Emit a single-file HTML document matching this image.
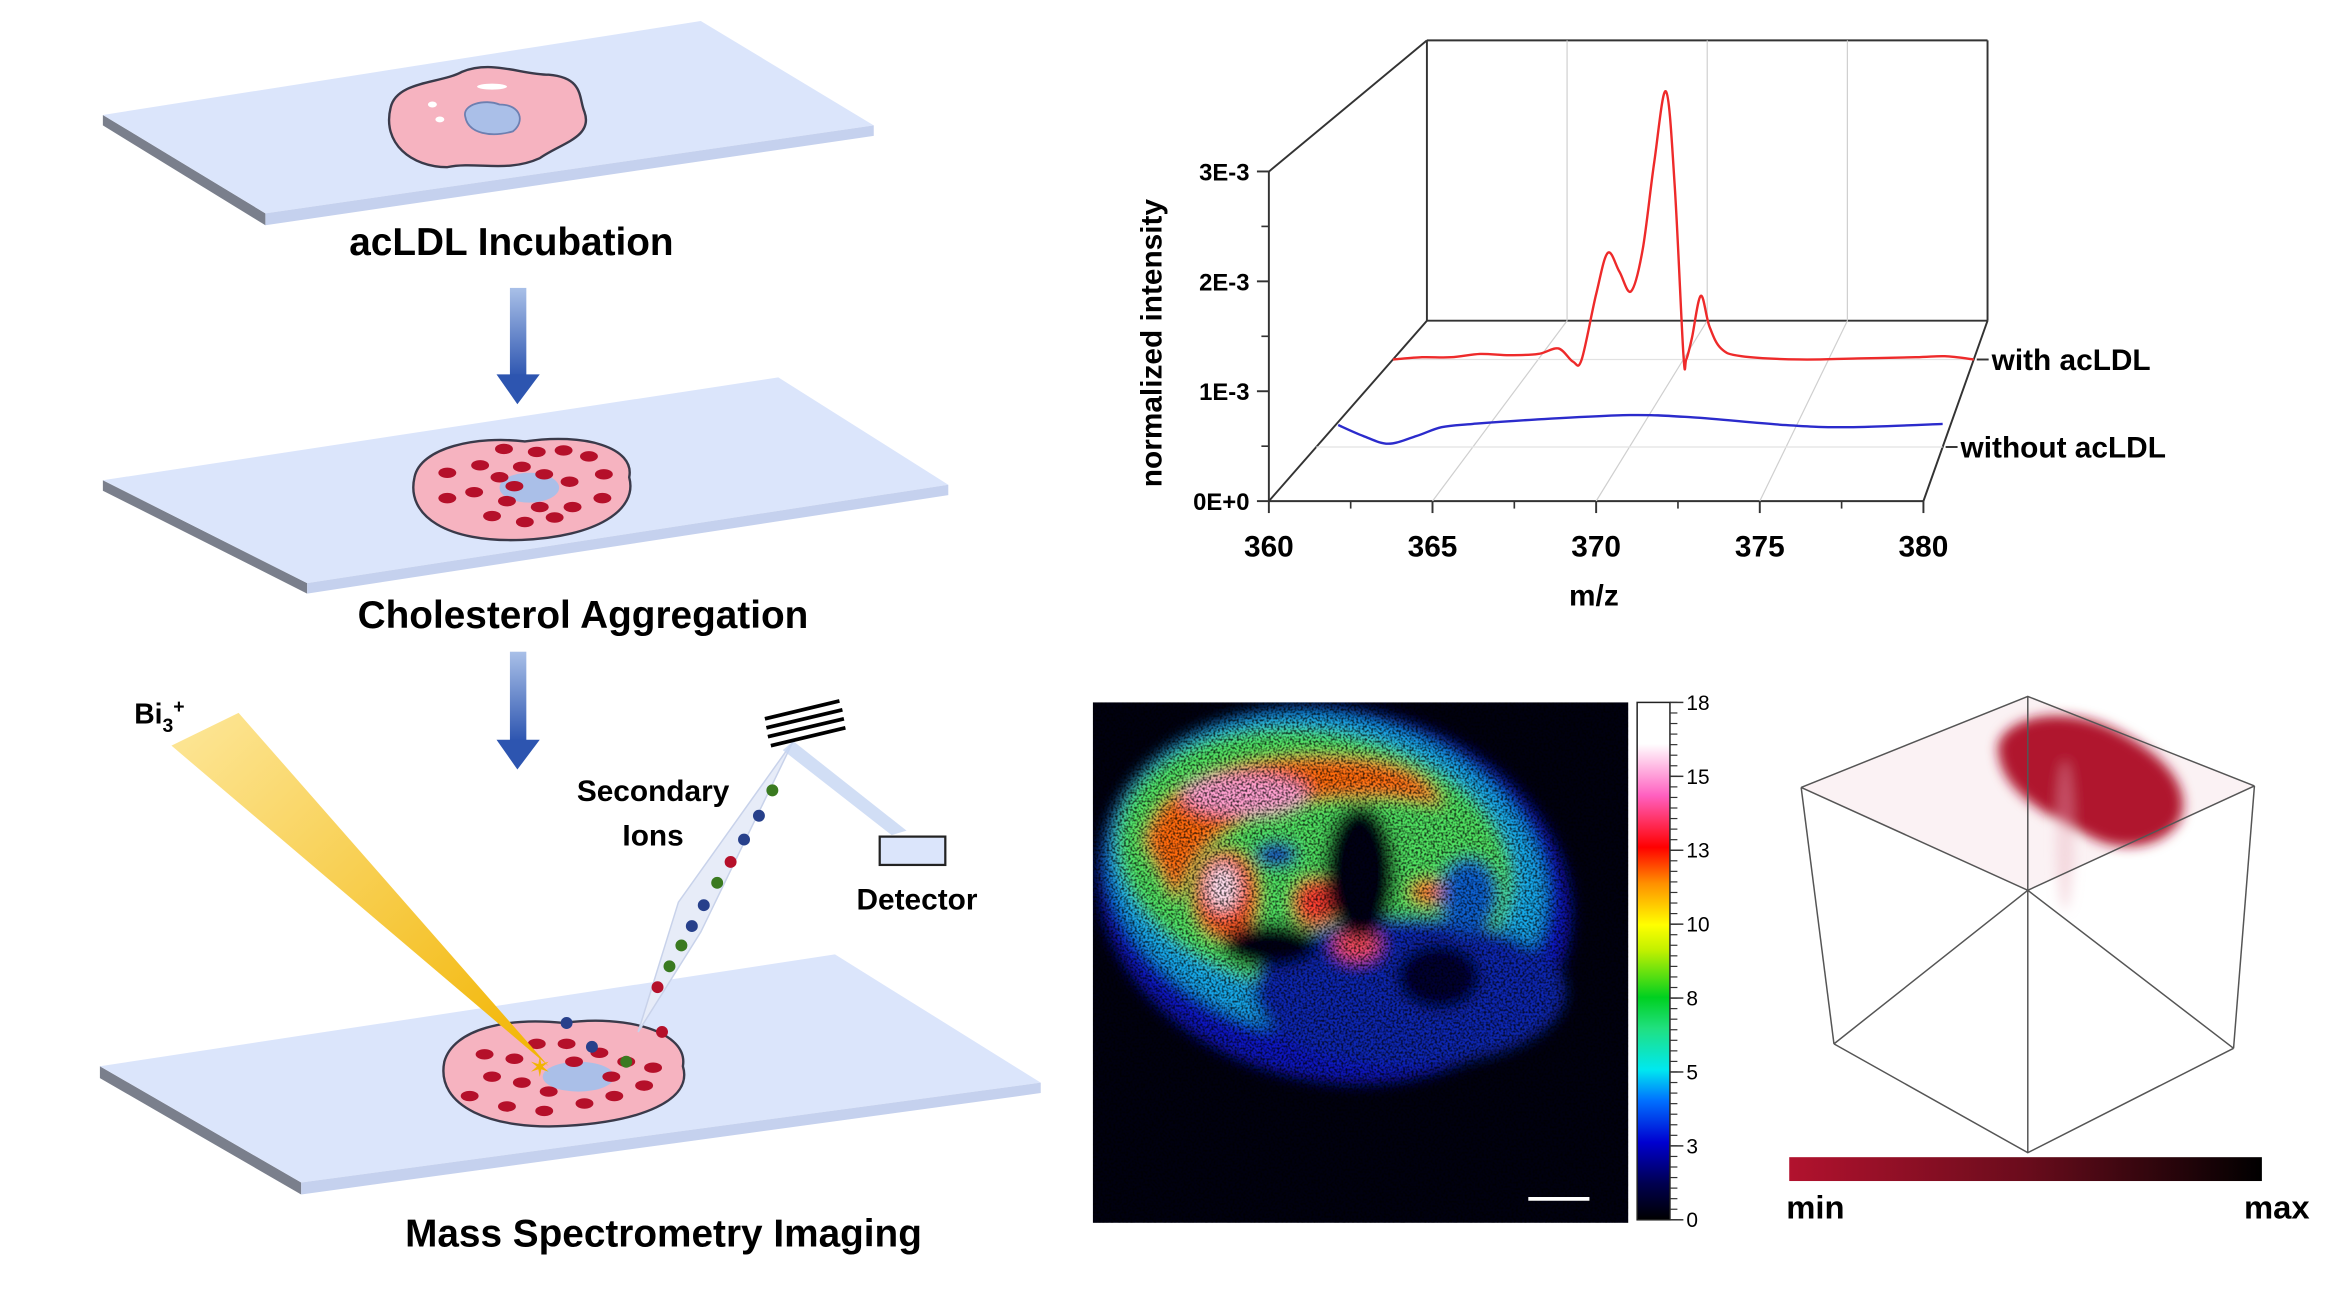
<!DOCTYPE html>
<html><head><meta charset="utf-8">
<style>
html,body{margin:0;padding:0;background:#fff;}
svg{display:block;}
text{font-family:"Liberation Sans",sans-serif;}
</style></head>
<body>
<svg id="fig" width="2326" height="1293" viewBox="0 0 1560 867" xmlns="http://www.w3.org/2000/svg">
<defs>
  <linearGradient id="arrowGrad" x1="0" y1="0" x2="0" y2="1">
    <stop offset="0" stop-color="#a9c0e8"/><stop offset="1" stop-color="#2d55b0"/>
  </linearGradient>
  <linearGradient id="beamGrad" x1="0" y1="0" x2="1" y2="1">
    <stop offset="0" stop-color="#fde79a"/><stop offset="1" stop-color="#f2b400"/>
  </linearGradient>
  <linearGradient id="jet" x1="0" y1="1" x2="0" y2="0">
    <stop offset="0" stop-color="#000000"/>
    <stop offset="0.07" stop-color="#000050"/>
    <stop offset="0.15" stop-color="#0000d0"/>
    <stop offset="0.23" stop-color="#0070ff"/>
    <stop offset="0.29" stop-color="#00e8f0"/>
    <stop offset="0.37" stop-color="#20e080"/>
    <stop offset="0.43" stop-color="#00d020"/>
    <stop offset="0.52" stop-color="#c0f000"/>
    <stop offset="0.57" stop-color="#ffff00"/>
    <stop offset="0.65" stop-color="#ff9000"/>
    <stop offset="0.72" stop-color="#ff0000"/>
    <stop offset="0.82" stop-color="#ff60c0"/>
    <stop offset="0.92" stop-color="#ffffff"/>
    <stop offset="1" stop-color="#ffffff"/>
  </linearGradient>
  <linearGradient id="cubeBar" x1="0" y1="0" x2="1" y2="0">
    <stop offset="0" stop-color="#b2122e"/><stop offset="0.5" stop-color="#6a0c1c"/><stop offset="1" stop-color="#000"/>
  </linearGradient>
  <filter id="blur4"><feGaussianBlur stdDeviation="4"/></filter>
  <filter id="blur8"><feGaussianBlur stdDeviation="5"/></filter>
  <filter id="speckle" x="0" y="0" width="100%" height="100%">
    <feTurbulence type="fractalNoise" baseFrequency="0.7" numOctaves="1" seed="3" result="n"/>
    <feColorMatrix in="n" type="matrix" values="0 0 0 0 0  0 0 0 0 0  0 0 0 0 0  0 0 0 3.2 -1.3" result="a"/>
    <feComposite in="a" in2="SourceGraphic" operator="in"/>
  </filter>
  <clipPath id="heatClip"><rect x="733" y="471" width="359" height="349"/></clipPath>
</defs>

<!-- ================= LEFT ILLUSTRATION ================= -->
<g>
  <g>
    <polygon points="69,77 178,143 178,151 69,84" fill="#7a7f8c"/>
    <polygon points="69,77 470,14 586,84 178,143" fill="#dbe5fb"/>
    <polygon points="178,143 586,84 586,91 178,151" fill="#c5d1ee"/>
    <path d="M262,72 C266,54 296,56 310,48 C330,40 350,50 368,50 C392,52 388,66 392,75 C398,92 376,96 362,106 C340,116 320,108 300,112 C276,112 256,96 262,72Z" fill="#f6b3c0" stroke="#3a3a4a" stroke-width="1.6"/>
    <path d="M312,78 C310,70 325,66 335,70 C350,70 352,82 344,88 C330,92 314,90 312,78Z" fill="#aabfe8" stroke="#6d7fb0" stroke-width="1.2"/>
    <ellipse cx="290" cy="70" rx="3" ry="2" fill="#fff"/><ellipse cx="295" cy="80" rx="3" ry="2" fill="#fff"/><ellipse cx="330" cy="58" rx="10" ry="2" fill="#fff"/>
  </g>
  <text x="343" y="171" text-anchor="middle" font-size="26" font-weight="bold">acLDL Incubation</text>
  <g>
    <rect x="342" y="193" width="11" height="60" fill="url(#arrowGrad)"/>
    <polygon points="333,251 362,251 347,271" fill="#2d55b0"/>
  </g>
  <g>
    <polygon points="69,322 206,391 206,398 69,329" fill="#7a7f8c"/>
    <polygon points="69,322 522,253 636,325 206,391" fill="#dbe5fb"/>
    <polygon points="206,391 636,325 636,332 206,398" fill="#c5d1ee"/>
    <path d="M278,320 C282,300 320,292 352,296 C392,290 426,300 422,320 C428,342 400,360 350,362 C300,364 272,346 278,320Z" fill="#f6b3c0" stroke="#3a3a4a" stroke-width="1.6"/>
    <ellipse cx="355" cy="327" rx="20" ry="10" fill="#aabfe8"/>
    <g fill="#b5102a">
      <ellipse cx="300" cy="317" rx="6" ry="3.5"/><ellipse cx="322" cy="312" rx="6" ry="3.5"/><ellipse cx="338" cy="301" rx="6" ry="3.5"/>
      <ellipse cx="360" cy="303" rx="6" ry="3.5"/><ellipse cx="378" cy="302" rx="6" ry="3.5"/><ellipse cx="395" cy="306" rx="6" ry="3.5"/>
      <ellipse cx="405" cy="318" rx="6" ry="3.5"/><ellipse cx="300" cy="334" rx="6" ry="3.5"/><ellipse cx="318" cy="330" rx="6" ry="3.5"/>
      <ellipse cx="335" cy="320" rx="6" ry="3.5"/><ellipse cx="350" cy="313" rx="6" ry="3.5"/><ellipse cx="365" cy="318" rx="6" ry="3.5"/>
      <ellipse cx="382" cy="323" rx="6" ry="3.5"/><ellipse cx="340" cy="336" rx="6" ry="3.5"/><ellipse cx="362" cy="340" rx="6" ry="3.5"/>
      <ellipse cx="384" cy="340" rx="6" ry="3.5"/><ellipse cx="404" cy="334" rx="6" ry="3.5"/><ellipse cx="330" cy="346" rx="6" ry="3.5"/>
      <ellipse cx="352" cy="350" rx="6" ry="3.5"/><ellipse cx="372" cy="347" rx="6" ry="3.5"/><ellipse cx="345" cy="326" rx="6" ry="3.5"/>
    </g>
  </g>
  <text x="391" y="421" text-anchor="middle" font-size="26" font-weight="bold">Cholesterol Aggregation</text>
  <g>
    <rect x="342" y="437" width="11" height="60" fill="url(#arrowGrad)"/>
    <polygon points="333,496 362,496 347,516" fill="#2d55b0"/>
  </g>
  <g>
    <polygon points="67,715 202,793 202,801 67,723" fill="#7a7f8c"/>
    <polygon points="67,715 560,640 698,726 202,793" fill="#dbe5fb"/>
    <polygon points="202,793 698,726 698,733 202,801" fill="#c5d1ee"/>
    <path d="M298,712 C304,690 340,682 378,686 C420,680 462,692 458,715 C465,738 430,752 380,755 C330,758 292,742 298,712Z" fill="#f6b3c0" stroke="#3a3a4a" stroke-width="1.6"/>
    <ellipse cx="388" cy="722" rx="24" ry="10" fill="#aabfe8"/>
    <g fill="#b5102a">
      <ellipse cx="315" cy="735" rx="6" ry="3.5"/><ellipse cx="330" cy="722" rx="6" ry="3.5"/><ellipse cx="345" cy="710" rx="6" ry="3.5"/>
      <ellipse cx="360" cy="700" rx="6" ry="3.5"/><ellipse cx="380" cy="700" rx="6" ry="3.5"/><ellipse cx="402" cy="706" rx="6" ry="3.5"/>
      <ellipse cx="420" cy="712" rx="6" ry="3.5"/><ellipse cx="438" cy="716" rx="6" ry="3.5"/><ellipse cx="350" cy="726" rx="6" ry="3.5"/>
      <ellipse cx="368" cy="732" rx="6" ry="3.5"/><ellipse cx="392" cy="740" rx="6" ry="3.5"/><ellipse cx="412" cy="735" rx="6" ry="3.5"/>
      <ellipse cx="432" cy="728" rx="6" ry="3.5"/><ellipse cx="340" cy="742" rx="6" ry="3.5"/><ellipse cx="365" cy="745" rx="6" ry="3.5"/>
      <ellipse cx="385" cy="712" rx="6" ry="3.5"/><ellipse cx="410" cy="722" rx="6" ry="3.5"/><ellipse cx="325" cy="707" rx="6" ry="3.5"/>
    </g>
    <circle cx="380" cy="686" r="4" fill="#27408b"/><circle cx="397" cy="702" r="4" fill="#27408b"/>
    <circle cx="420" cy="712" r="4" fill="#3a7a20"/><circle cx="444" cy="692" r="4" fill="#b5102a"/>
  </g>
  <polygon points="115,500 160,478 368,715" fill="url(#beamGrad)"/>
  <text x="362" y="722" font-size="18" fill="#f2b400" text-anchor="middle">✶</text>
  <text x="90" y="485" font-size="19" font-weight="bold">Bi<tspan font-size="13" dy="6">3</tspan><tspan font-size="13" dy="-13">+</tspan></text>
  <polygon points="428,692 455,605 532,497 470,625" fill="#e7ecf8" stroke="#c8d2ea" stroke-width="1"/>
  <polygon points="532,497 608,557 598,560 525,503" fill="#c6d6f2" opacity="0.8"/>
  <g>
    <circle cx="518" cy="530" r="4" fill="#3a7a20"/><circle cx="509" cy="547" r="4" fill="#27408b"/>
    <circle cx="499" cy="563" r="4" fill="#27408b"/><circle cx="490" cy="578" r="4" fill="#b5102a"/>
    <circle cx="481" cy="592" r="4" fill="#3a7a20"/><circle cx="472" cy="607" r="4" fill="#27408b"/>
    <circle cx="464" cy="621" r="4" fill="#27408b"/><circle cx="457" cy="634" r="4" fill="#3a7a20"/>
    <circle cx="449" cy="648" r="4" fill="#3a7a20"/><circle cx="441" cy="662" r="4" fill="#b5102a"/>
  </g>
  <g stroke="#000" stroke-width="2.5">
    <line x1="513" y1="482" x2="563" y2="470"/><line x1="514" y1="488" x2="565" y2="476"/>
    <line x1="515" y1="494" x2="566" y2="482"/><line x1="517" y1="500" x2="567" y2="488"/>
  </g>
  <text x="438" y="537" text-anchor="middle" font-size="20" font-weight="bold">Secondary</text>
  <text x="438" y="567" text-anchor="middle" font-size="20" font-weight="bold">Ions</text>
  <rect x="590" y="561" width="44" height="19" fill="#dbe5fb" stroke="#222" stroke-width="1.5"/>
  <text x="615" y="610" text-anchor="middle" font-size="20" font-weight="bold">Detector</text>
  <text x="445" y="836" text-anchor="middle" font-size="26" font-weight="bold">Mass Spectrometry Imaging</text>
</g>

<!-- ================= SPECTRUM CHART ================= -->
<g id="chart">
  <g id="frame" stroke="#333" stroke-width="1.3" fill="none">
    <line x1="851" y1="115" x2="957" y2="27"/>
    <line x1="957" y1="27" x2="1333" y2="27"/>
    <line x1="957" y1="27" x2="957" y2="215"/>
    <line x1="1333" y1="27" x2="1333" y2="215"/>
    <line x1="957" y1="215" x2="1333" y2="215"/>
    <line x1="851" y1="336" x2="957" y2="215"/>
    <line x1="1290" y1="336" x2="1333" y2="215"/>
    <line x1="851" y1="115" x2="851" y2="336"/>
    <line x1="851" y1="336" x2="1290" y2="336"/>
  </g>
  <g id="grid" stroke="#cfcfcf" stroke-width="0.8"></g>
  <g id="series"></g>
  <g id="axes"></g>
  <text x="1069" y="406" text-anchor="middle" font-size="20" font-weight="bold">m/z</text>
  <text transform="translate(779,230) rotate(-90)" text-anchor="middle" font-size="20" font-weight="bold">normalized intensity</text>
</g>

<!-- ================= ION IMAGE ================= -->
<g>
  <rect x="733" y="471" width="359" height="349" fill="#000010"/>
  <g clip-path="url(#heatClip)">
    <g filter="url(#blur8)">
      <ellipse cx="895" cy="600" rx="160" ry="125" transform="rotate(12 895 600)" fill="#0818c0"/>
      <ellipse cx="890" cy="588" rx="148" ry="108" transform="rotate(12 890 588)" fill="#18a8e8"/>
      <ellipse cx="882" cy="578" rx="134" ry="88" transform="rotate(10 882 578)" fill="#50e060"/>
      <ellipse cx="945" cy="665" rx="105" ry="50" fill="#0828b0"/>
      <path d="M768,565 C775,520 840,505 900,508 C940,510 960,522 968,540 C930,530 880,532 842,546 C812,558 796,578 790,605 Z" fill="#ff6a10"/>
      <ellipse cx="835" cy="533" rx="42" ry="14" fill="#ffa0d0"/>
      <ellipse cx="822" cy="600" rx="22" ry="30" fill="#ff5a20"/>
      <ellipse cx="820" cy="595" rx="11" ry="16" fill="#ffe0f0"/>
      <ellipse cx="882" cy="605" rx="15" ry="16" fill="#ff4030"/>
      <ellipse cx="910" cy="633" rx="15" ry="11" fill="#ff5060"/>
      <ellipse cx="958" cy="598" rx="12" ry="8" fill="#ff7020"/>
      <ellipse cx="912" cy="585" rx="24" ry="45" fill="#000018"/>
      <ellipse cx="852" cy="634" rx="32" ry="15" fill="#000018"/>
      <ellipse cx="965" cy="655" rx="28" ry="22" fill="#000030"/>
      <ellipse cx="856" cy="573" rx="14" ry="8" fill="#0838c0"/>
      <ellipse cx="985" cy="600" rx="20" ry="25" fill="#1060d0"/>
    </g>
    <rect x="733" y="471" width="359" height="349" fill="#000010" filter="url(#speckle)" opacity="0.7"/>
  </g>
  <line x1="1025" y1="804" x2="1066" y2="804" stroke="#fff" stroke-width="2.5"/>
</g>
<g>
  <rect x="1098" y="471" width="22" height="347" fill="url(#jet)" stroke="#222" stroke-width="1"/>
  <g id="cbTicks"></g>
</g>

<!-- ================= 3D CUBE ================= -->
<g>
  <polygon points="1360,467 1512,527 1360,597 1208,528" fill="#fbf2f4"/>
  <g filter="url(#blur4)">
    <path d="M1340,500 C1345,480 1385,472 1420,490 C1455,508 1470,530 1462,550 C1450,570 1420,572 1400,560 C1370,545 1340,530 1340,500Z" fill="#b0122e"/>
    <ellipse cx="1385" cy="560" rx="6" ry="50" fill="#e8b0bc" opacity="0.4"/>
  </g>
  <g stroke="#555" stroke-width="1" fill="none">
    <polyline points="1208,528 1360,467 1512,527"/>
    <polyline points="1208,528 1360,597 1512,527"/>
    <line x1="1360" y1="467" x2="1360" y2="773"/>
    <line x1="1208" y1="528" x2="1230" y2="700"/>
    <line x1="1512" y1="527" x2="1498" y2="703"/>
    <polyline points="1230,700 1360,773 1498,703"/>
    <polyline points="1230,700 1360,597 1498,703"/>
  </g>
  <rect x="1200" y="776" width="317" height="16" fill="url(#cubeBar)"/>
  <text x="1198" y="817" font-size="22" font-weight="bold">min</text>
  <text x="1549" y="817" font-size="22" font-weight="bold" text-anchor="end">max</text>
</g>
</svg>

<script>
// ---- spectrum data ----
const xTicks = [360, 365, 370, 375, 380];
const yTicks = [0, 1, 2, 3];
const yTickLabels = ["0E+0", "1E-3", "2E-3", "3E-3"];
const withMz = [360, 361, 362, 363, 364, 365, 365.7, 366.2, 366.5, 367, 367.4, 367.8, 368.2, 368.6, 369, 369.4, 369.7, 370.0, 370.1, 370.3, 370.6, 370.9, 371.3, 372, 374, 376, 378, 379, 380];
const withVal = [0.0, 0.02, 0.02, 0.05, 0.04, 0.05, 0.1, -0.02, 0.0, 0.6, 0.97, 0.8, 0.62, 1.0, 1.8, 2.44, 1.6, 0.05, 0.0, 0.2, 0.58, 0.3, 0.1, 0.03, 0.0, 0.01, 0.02, 0.03, 0.0];
const withoutMz = [360.7, 361.5, 362.3, 363.2, 364, 365, 367, 370, 372, 375, 377, 380];
const withoutVal = [0.2, 0.1, 0.03, 0.1, 0.18, 0.21, 0.25, 0.29, 0.27, 0.2, 0.18, 0.21];
const seriesNames = ["with acLDL", "without acLDL"];
const seriesDepth = [0.785, 0.3];
const cbTicks = [0, 3, 5, 8, 10, 13, 15, 18];

const NS = "http://www.w3.org/2000/svg";
function mk(tag, attrs, parent){ const e=document.createElementNS(NS,tag); for(const k in attrs) e.setAttribute(k,attrs[k]); parent.appendChild(e); return e; }
const M0=360, M1=380, UNIT=73.7;
function proj(m, t, v){
  const xf = 851 + (m-M0)*(439/(M1-M0));
  const xb = 957 + (m-M0)*(376/(M1-M0));
  return [xf + (xb-xf)*t, 336 - 121*t - v*UNIT];
}
function smooth(pts){
  let d = "M"+pts[0][0]+","+pts[0][1];
  for(let i=0;i<pts.length-1;i++){
    const p0=pts[Math.max(0,i-1)], p1=pts[i], p2=pts[i+1], p3=pts[Math.min(pts.length-1,i+2)];
    const c1=[p1[0]+(p2[0]-p0[0])/6, p1[1]+(p2[1]-p0[1])/6];
    const c2=[p2[0]-(p3[0]-p1[0])/6, p2[1]-(p3[1]-p1[1])/6];
    d+=" C"+c1[0].toFixed(1)+","+c1[1].toFixed(1)+" "+c2[0].toFixed(1)+","+c2[1].toFixed(1)+" "+p2[0].toFixed(1)+","+p2[1].toFixed(1);
  }
  return d;
}
const grid=document.getElementById('grid'), series=document.getElementById('series'), axes=document.getElementById('axes');
xTicks.slice(1,-1).forEach(m=>{
  const a=proj(m,0,0), b=proj(m,1,0);
  const g1=mk('line',{x1:a[0],y1:a[1],x2:b[0],y2:b[1]},grid);
  
  
  const g2=mk('line',{x1:b[0],y1:27,x2:b[0],y2:215},grid);
  
  
});
seriesDepth.forEach(t=>{
  const a=proj(M0,t,0), b=proj(M1,t,0);
  mk('line',{x1:a[0],y1:a[1],x2:b[0],y2:b[1],stroke:'#e2e2e2','stroke-width':0.8},grid);
});
const sData=[[withMz,withVal,'#ee2a2a'],[withoutMz,withoutVal,'#2b2bcc']];
sData.forEach((s,i)=>{
  const pts=s[0].map((m,j)=>proj(m,seriesDepth[i],s[1][j]));
  const p=mk('path',{d:smooth(pts),fill:'none',stroke:s[2],'stroke-width':1.6},series);
  
  
  const e=proj(M1,seriesDepth[i],0);
  mk('line',{x1:e[0]+2,y1:e[1],x2:e[0]+10,y2:e[1],stroke:'#333','stroke-width':1.3},axes);
  const lb=mk('text',{x:e[0]+12,y:e[1]+7,'font-size':20,'font-weight':'bold'},axes);
  lb.textContent=seriesNames[i];
  
  
});
xTicks.forEach((m,i)=>{
  const a=proj(m,0,0);
  mk('line',{x1:a[0],y1:336,x2:a[0],y2:344,stroke:'#333','stroke-width':1.3},axes);
  if(i<xTicks.length-1){ const h=proj(m+2.5,0,0); mk('line',{x1:h[0],y1:336,x2:h[0],y2:341,stroke:'#333','stroke-width':1.1},axes); }
  const t=mk('text',{x:a[0],y:373,'text-anchor':'middle','font-size':20,'font-weight':'bold'},axes);
  t.textContent=m;
  
  
});
yTicks.forEach((v,i)=>{
  const a=proj(M0,0,v);
  mk('line',{x1:843,y1:a[1],x2:851,y2:a[1],stroke:'#333','stroke-width':1.3},axes);
  if(i<yTicks.length-1){ const h=proj(M0,0,v+0.5); mk('line',{x1:846,y1:h[1],x2:851,y2:h[1],stroke:'#333','stroke-width':1.1},axes); }
  const t=mk('text',{x:838,y:a[1]+6,'text-anchor':'end','font-size':16,'font-weight':'bold'},axes);
  t.textContent=yTickLabels[i];
  
  
});
// colorbar ticks (labels evenly spaced along the bar)
const cbG=document.getElementById('cbTicks');
const nCb=cbTicks.length-1;
const cbY=k=>818-(k/nCb)*347;
for(let k=0; k<=nCb*7; k++){ const y=818-(k/(nCb*7))*347; mk('line',{x1:1120,y1:y,x2:1125,y2:y,stroke:'#333','stroke-width':0.8},cbG); }
cbTicks.forEach((v,k)=>{
  mk('line',{x1:1120,y1:cbY(k),x2:1129,y2:cbY(k),stroke:'#333','stroke-width':1},cbG);
  const t=mk('text',{x:1131,y:cbY(k)+5,'font-size':14},cbG);
  t.textContent=v;
  
  
});
</script>
</body></html>
